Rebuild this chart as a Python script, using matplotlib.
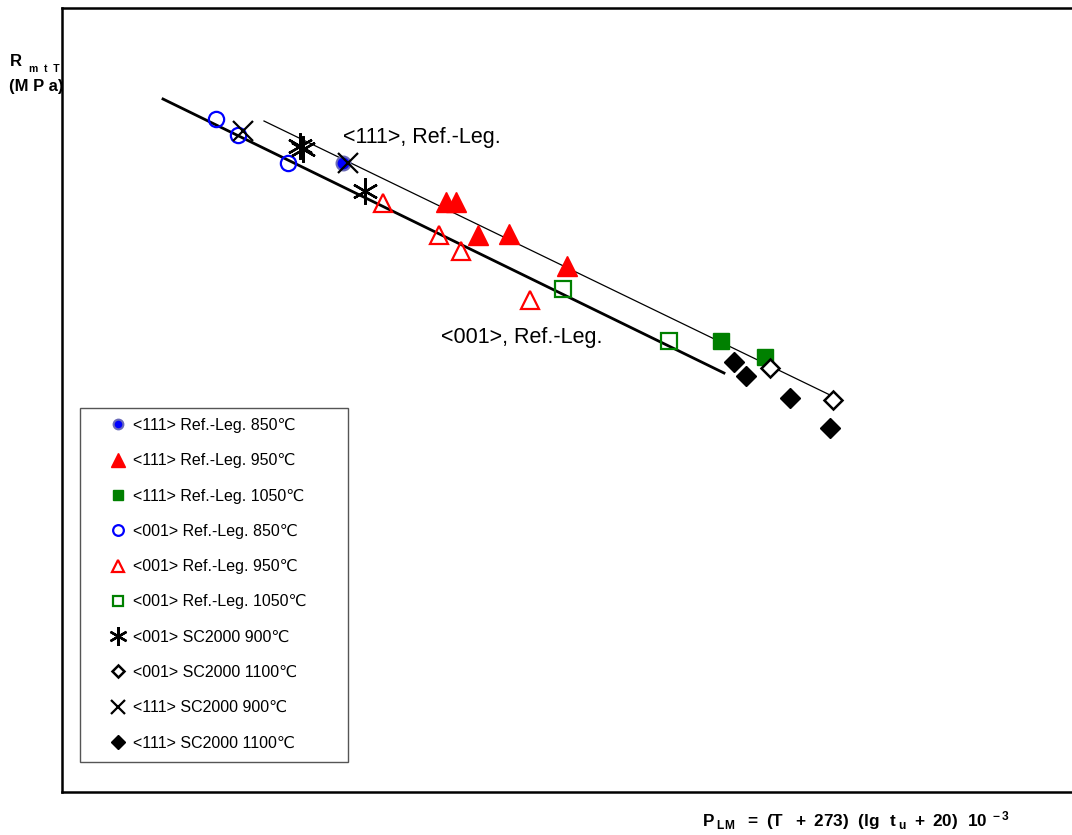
import matplotlib
matplotlib.use("Agg")
import matplotlib.pyplot as plt
from matplotlib.lines import Line2D
from matplotlib.patches import Rectangle

plt.rcParams['font.family'] = ['Liberation Sans', 'DejaVu Sans']
plt.rcParams['mathtext.fontset'] = 'custom'
plt.rcParams['mathtext.rm'] = 'Liberation Sans:bold'
plt.rcParams['mathtext.it'] = 'Liberation Sans:bold'
plt.rcParams['mathtext.bf'] = 'Liberation Sans:bold'

# Larson-Miller parameter (x) and creep strength (y), plot units
x_111_850 = [343]
y_111_850 = [672]
x_111_950 = [446, 456, 478, 509, 567]
y_111_950 = [633, 633, 600, 601, 569]
x_111_1050 = [721, 765]
y_111_1050 = [494, 478]
x_001_850 = [216, 238, 288]
y_001_850 = [716, 700, 672]
x_001_950 = [383, 439, 461, 530]
y_001_950 = [632, 600, 584, 535]
x_001_1050 = [563, 669]
y_001_1050 = [546, 494]
x_sc_001_900 = [300, 303, 365]
y_sc_001_900 = [689, 686, 644]
x_sc_001_1100 = [770, 833]
y_sc_001_1100 = [467, 435]
x_sc_111_900 = [243, 348]
y_sc_111_900 = [704, 672]
x_sc_111_1100 = [734, 746, 790, 830]
y_sc_111_1100 = [473, 459, 437, 407]

# fitted master curves
fit_111_x = [264, 830]
fit_111_y = [714, 440]
fit_001_x = [163, 724]
fit_001_y = [736, 462]

fig = plt.figure(figsize=(10.72, 8.35), dpi=100)
ax = fig.add_axes([62 / 1072, 43 / 835, (1090 - 62) / 1072, (792 - 8) / 835])
ax.set_xlim(62, 1090)
ax.set_ylim(43, 827)
ax.set_xticks([])
ax.set_yticks([])
for s in ax.spines.values():
    s.set_linewidth(1.8)

ax.plot(fit_111_x, fit_111_y, color='black', lw=0.9)
ax.plot(fit_001_x, fit_001_y, color='black', lw=2.0)

series = [
    (x_111_850, y_111_850, dict(marker='o', ms=10, mfc='blue', mec='#6a6ab8', mew=1.5, ls='none'), '<111> Ref.-Leg. 850℃'),
    (x_111_950, y_111_950, dict(marker='^', ms=14, mfc='red', mec='red', ls='none'), '<111> Ref.-Leg. 950℃'),
    (x_111_1050, y_111_1050, dict(marker='s', ms=11, mfc='green', mec='green', ls='none'), '<111> Ref.-Leg. 1050℃'),
    (x_001_850, y_001_850, dict(marker='o', ms=11, mfc='none', mec='blue', mew=1.6, ls='none'), '<001> Ref.-Leg. 850℃'),
    (x_001_950, y_001_950, dict(marker='^', ms=13, mfc='none', mec='red', mew=1.6, ls='none'), '<001> Ref.-Leg. 950℃'),
    (x_001_1050, y_001_1050, dict(marker='s', ms=11, mfc='none', mec='green', mew=1.6, ls='none'), '<001> Ref.-Leg. 1050℃'),
    (x_sc_001_900, y_sc_001_900, dict(marker=(6, 2, 0), ms=19, mec='black', mew=1.7, ls='none'), '<001> SC2000 900℃'),
    (x_sc_001_1100, y_sc_001_1100, dict(marker='D', ms=9, mfc='white', mec='black', mew=1.8, ls='none'), '<001> SC2000 1100℃'),
    (x_sc_111_900, y_sc_111_900, dict(marker='x', ms=15, mec='black', mew=1.6, ls='none'), '<111> SC2000 900℃'),
    (x_sc_111_1100, y_sc_111_1100, dict(marker='D', ms=10, mfc='black', mec='black', ls='none'), '<111> SC2000 1100℃'),
]

handles = []
for xs, ys, style, label in series:
    ax.plot(xs, ys, **style)
    leg_style = dict(style)
    leg_style['ms'] = style['ms'] * 0.7
    handles.append(Line2D([], [], label=label, **leg_style))

ax.text(343, 698, '<111>, Ref.-Leg.', fontsize=15.5, va='center', ha='left')
ax.text(441, 498, '<001>, Ref.-Leg.', fontsize=15.5, va='center', ha='left')

# legend entries without a frame, box drawn separately
leg = ax.legend(handles=handles, loc='upper left',
                bbox_to_anchor=((108 - 62) / 1028, (792 - 418) / 784),
                borderaxespad=0, fontsize=11.5, labelspacing=1.27,
                handlelength=1.2, handletextpad=0.35, borderpad=0,
                frameon=False)
ax.add_patch(Rectangle((80, 835 - 762), 268, 354, fill=False,
                       edgecolor='#555555', lw=1.0, zorder=4))

fig.text(10 / 1072, 1 - 62 / 835, 'R', fontsize=12, fontweight='bold', va='center')
fig.text(29 / 1072, 1 - 69 / 835, 'm  t  T', fontsize=7.5, fontweight='bold', va='center')
fig.text(9 / 1072, 1 - 86 / 835, '(M P a)', fontsize=12, fontweight='bold', va='center')

fig.text(702 / 1072, 1 - 821 / 835,
         r'$P_{\ LM}\ \ =\ (T\ \ +\ 273)\ \ (lg\ \ t_{\ u}\ +\ 20)\ \ 10^{\ -3}$',
         fontsize=12.3, va='center')

fig.savefig('out.png', dpi=100)
